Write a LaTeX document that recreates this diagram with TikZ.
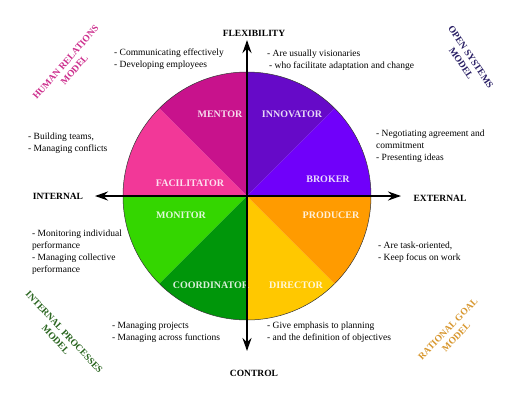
\documentclass[tikz,border=0pt]{standalone}
\usepackage{fontspec}
\setmainfont{Liberation Serif}
\usetikzlibrary{arrows.meta}
\definecolor{cMentor}{RGB}{200,18,140}
\definecolor{cFacil}{RGB}{242,56,152}
\definecolor{cInnov}{RGB}{102,10,200}
\definecolor{cBroker}{RGB}{112,0,250}
\definecolor{cMonitor}{RGB}{52,214,0}
\definecolor{cCoord}{RGB}{0,150,10}
\definecolor{cProd}{RGB}{255,155,0}
\definecolor{cDir}{RGB}{255,200,0}
\definecolor{cHR}{RGB}{204,45,140}
\definecolor{cOS}{RGB}{40,30,100}
\definecolor{cIP}{RGB}{40,100,30}
\definecolor{cRG}{RGB}{215,150,45}
\tikzset{
  role/.style={font=\fontsize{10}{12}\selectfont\bfseries, text=white, text opacity=0.85, inner sep=0pt},
  axislabel/.style={font=\fontsize{9.5}{12}\selectfont\bfseries, inner sep=0pt},
  note/.style={font=\fontsize{9.5}{12}\selectfont, align=left, anchor=north west, inner sep=0pt},
  model/.style={font=\fontsize{9.5}{11.5}\selectfont\bfseries, align=center, inner sep=0pt},
  axis/.style={line width=2.6pt, {Stealth[length=13pt,width=9pt]}-{Stealth[length=13pt,width=9pt]}},
}
\begin{document}
\begin{tikzpicture}[x=1pt,y=-1pt]
\useasboundingbox (0,0) rectangle (511,402);
\coordinate (C) at (247,196);
% sectors
\fill[cInnov] (C) -- ++(90:124pt) arc[start angle=90, end angle=45, radius=124pt] -- cycle;
\fill[cBroker] (C) -- ++(45:124pt) arc[start angle=45, end angle=0, radius=124pt] -- cycle;
\fill[cMentor] (C) -- ++(90:124pt) arc[start angle=90, end angle=135, radius=124pt] -- cycle;
\fill[cFacil] (C) -- ++(135:124pt) arc[start angle=135, end angle=180, radius=124pt] -- cycle;
\fill[cMonitor] (C) -- ++(180:124pt) arc[start angle=180, end angle=225, radius=124pt] -- cycle;
\fill[cCoord] (C) -- ++(225:124pt) arc[start angle=225, end angle=270, radius=124pt] -- cycle;
\fill[cDir] (C) -- ++(270:124pt) arc[start angle=270, end angle=315, radius=124pt] -- cycle;
\fill[cProd] (C) -- ++(315:124pt) arc[start angle=315, end angle=360, radius=124pt] -- cycle;
\draw[line width=0.5pt, black!80] (C) circle[radius=124pt];
% role labels
\node[role] (mentor) at (220,114) {MENTOR};
\node[role] (innov) at (292,114) {INNOVATOR};
\node[role] (facil) at (190,183) {FACILITATOR};
\node[role] (broker) at (328,179) {BROKER};
\node[role] (monitor) at (181,215) {MONITOR};
\node[role] (prod) at (331,215) {PRODUCER};
\node[role] (coord) at (211,285) {COORDINATOR};
\node[role] (dir) at (296,285) {DIRECTOR};
% axes
\coordinate (top) at (247,40);
\coordinate (bot) at (247,351);
\coordinate (lft) at (95,196);
\coordinate (rgt) at (401,196);
\draw[axis] (bot) -- (top);
\draw[axis] (lft) -- (rgt);
\node[axislabel] (flex) at (254,33) {FLEXIBILITY};
\node[axislabel] (ctrl) at (254,373) {CONTROL};
\node[axislabel] (int) at (58,196) {INTERNAL};
\node[axislabel] (ext) at (440,198) {EXTERNAL};
% notes
\node[note] (n1) at (114,49) {- Communicating effectively\\- Developing employees};
\node[note] (n2) at (267,50) {- Are usually visionaries\\\hspace{2pt}- who facilitate adaptation and change};
\node[note] (n3) at (28,133) {- Building teams,\\- Managing conflicts};
\node[note] (n4) at (376,130) {- Negotiating agreement and\\commitment\\- Presenting ideas};
\node[note] (n5) at (32,230) {- Monitoring individual\\performance\\- Managing collective\\performance};
\node[note] (n6) at (378,242) {- Are task-oriented,\\- Keep focus on work};
\node[note] (n7) at (112,322) {- Managing projects\\- Managing across functions};
\node[note] (n8) at (267,322) {- Give emphasis to planning\\- and the definition of objectives};
% models
\node[model, text=cHR, rotate=49] (hr) at (70,66) {HUMAN RELATIONS\\MODEL};
\node[model, text=cOS, rotate=-56] (os) at (466,60) {OPEN SYSTEMS\\MODEL};
\node[model, text=cIP, rotate=-47] (ip) at (60,336) {INTERNAL PROCESSES\\MODEL};
\node[model, text=cRG, rotate=46] (rg) at (452,333) {RATIONAL GOAL\\MODEL};
\end{tikzpicture}
\end{document}
